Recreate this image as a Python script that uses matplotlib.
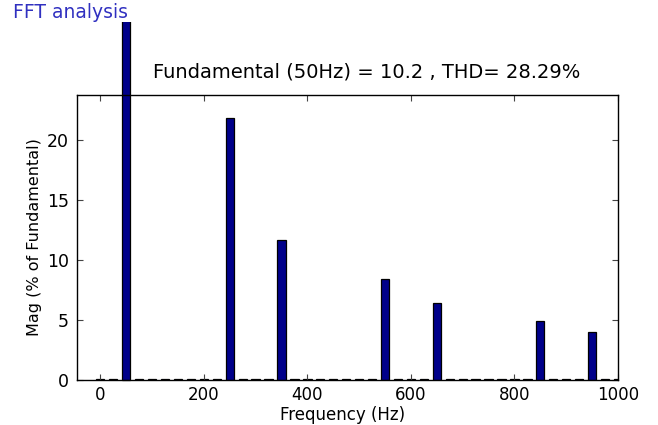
import numpy as np
import matplotlib
matplotlib.use("Agg")
import matplotlib.pyplot as plt
from matplotlib.transforms import Bbox, TransformedBbox

# Data
freq_step = 25
freqs = np.arange(0, 1001, freq_step)
harm_freqs = [50, 250, 350, 550, 650, 850, 950]
harm_mags = [100.0, 21.8, 11.7, 8.4, 6.4, 4.9, 4.0]
residual_mag = 0.08  # tiny residual components at the other bins
mags = np.full(len(freqs), residual_mag)
for f, m in zip(harm_freqs, harm_mags):
    mags[list(freqs).index(f)] = m

title_text = "FFT analysis"
info_text = "Fundamental (50Hz) = 10.2 , THD= 28.29%"
xticks = [0, 200, 400, 600, 800, 1000]
yticks = [0, 5, 10, 15, 20]

plt.rcParams['font.family'] = ['DejaVu Sans']

fig = plt.figure(figsize=(6.58, 4.25), dpi=100)
W, H = 658, 425
ax = fig.add_axes([77 / W, 1 - 380 / H, (618 - 77) / W, (380 - 95) / H])

bars = ax.bar(freqs, mags, width=16, color='#00008a', edgecolor='black', linewidth=0.9)
# fundamental bar extends above the axes (unclipped in the original)
fund_idx = list(freqs).index(50)
clipbox = TransformedBbox(Bbox([[0, 0], [1, 1 - 22 / H]]), fig.transFigure)
bars[fund_idx].set_clip_on(True)
bars[fund_idx].set_clip_box(clipbox)

ax.set_xlim(-45, 1000)
ax.set_ylim(0, 23.75)
ax.set_xticks(xticks)
ax.set_yticks(yticks)
ax.tick_params(direction='in', top=True, right=True, length=4, width=0.8,
               labelsize=12.5, color='#444444')
ax.tick_params(axis='x', pad=4, labelsize=12)
ax.tick_params(axis='y', pad=6)
for s in ax.spines.values():
    s.set_linewidth(1.0)

ax.set_xlabel("Frequency (Hz)", fontsize=12)
ax.xaxis.set_label_coords(0.49, -0.09)
ax.set_ylabel("Mag (% of Fundamental)", fontsize=11.5)
ax.yaxis.set_label_coords(-0.064, 0.5)

fig.text(13 / W, 1 - 13 / H, title_text, color='#3030c0', fontsize=13.5,
         ha='left', va='center')
fig.text(153 / W, 1 - 72 / H, info_text, color='black', fontsize=14,
         ha='left', va='center')

fig.savefig("out.png", dpi=100)
